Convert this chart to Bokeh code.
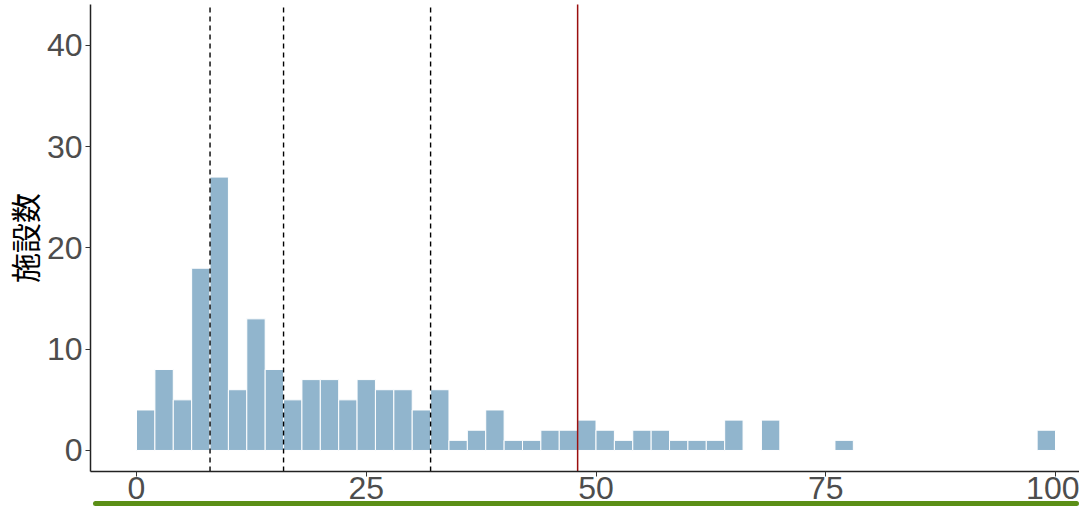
from bokeh.plotting import figure
from bokeh.models import Div, FixedTicker, ColumnDataSource
from bokeh.layouts import column
from bokeh.embed import file_html
from bokeh.resources import INLINE

# --- data ---
bin_left = [0, 2, 4, 6, 8, 10, 12, 14, 16, 18, 20, 22, 24, 26, 28, 30, 32, 34, 36, 38,
            40, 42, 44, 46, 48, 50, 52, 54, 56, 58, 60, 62, 64, 66, 68, 70, 72, 74, 76, 78,
            80, 82, 84, 86, 88, 90, 92, 94, 96, 98]
counts = [4, 8, 5, 18, 27, 6, 13, 8, 5, 7, 7, 5, 7, 6, 6, 4, 6, 1, 2, 4,
          1, 1, 2, 2, 3, 2, 1, 2, 2, 1, 1, 1, 3, 0, 3, 0, 0, 0, 1, 0,
          0, 0, 0, 0, 0, 0, 0, 0, 0, 2]
bin_width = 2
quartile_lines = [8, 16, 32]
mean_line = [48]
x_ticks = [0, 25, 50, 75, 100]
y_ticks = [0, 10, 20, 30, 40]
y_label = "施設数"

# --- ranges ---
x_lo, x_hi = -14.80, 102.61
axis_x = -5.0
y_lo, y_hi = -5.73, 44.44
axis_y = -2.07
axis_top = 44.05

p = figure(width=1079, height=508, output_backend="svg", toolbar_location=None,
           x_range=(x_lo, x_hi), y_range=(y_lo, y_hi),
           min_border_left=0, min_border_right=0, min_border_top=0, min_border_bottom=0)
p.outline_line_color = None
p.background_fill_color = "#ffffff"
p.border_fill_color = "#ffffff"
p.xgrid.visible = False
p.ygrid.visible = False

src = ColumnDataSource(dict(
    left=bin_left,
    right=[b + bin_width for b in bin_left],
    top=counts,
    bottom=[0] * len(counts),
))
p.quad(left="left", right="right", top="top", bottom="bottom", source=src,
       fill_color="#91b5cd", line_color="#ffffff", line_width=1)

p.segment(x0=quartile_lines, x1=quartile_lines,
          y0=[axis_y] * len(quartile_lines), y1=[axis_top - 0.3] * len(quartile_lines),
          line_color="#000000", line_width=1.4, line_dash="5 4")
p.segment(x0=mean_line, x1=mean_line, y0=[axis_y], y1=[axis_top], line_color="#9a0f0f", line_width=1.5)

# axes
xa = p.xaxis[0]
xa.fixed_location = axis_y
xa.bounds = (axis_x, x_hi)
xa.ticker = FixedTicker(ticks=x_ticks)
xa.minor_tick_line_color = None
xa.major_tick_in = 0
xa.major_tick_out = 5
xa.major_tick_line_color = "#333333"
xa.axis_line_color = "#222222"
xa.axis_line_width = 1.5
xa.major_label_text_font = "Liberation Sans"
xa.major_label_text_font_size = "32px"
xa.major_label_text_color = "#4d4d4d"
xa.major_label_standoff = 1

ya = p.yaxis[0]
ya.fixed_location = axis_x
ya.bounds = (axis_y, axis_top)
ya.ticker = FixedTicker(ticks=y_ticks)
ya.minor_tick_line_color = None
ya.major_tick_in = 0
ya.major_tick_out = 5
ya.major_tick_line_color = "#333333"
ya.axis_line_color = "#222222"
ya.axis_line_width = 1.5
ya.major_label_text_font = "Liberation Sans"
ya.major_label_text_font_size = "32px"
ya.major_label_text_color = "#4d4d4d"
ya.major_label_standoff = 3
ya.axis_label = y_label
ya.axis_label_text_font = "Noto Sans CJK JP"
ya.axis_label_text_font_size = "30px"
ya.axis_label_text_font_style = "normal"
ya.axis_label_text_color = "#000000"
ya.axis_label_standoff = -2

bar = Div(width=986, height=5, styles={"background-color": "#5b8f16", "margin-left": "93px",
                                       "margin-top": "-7px", "border-radius": "3px",
                                       "z-index": "5", "position": "relative"})

layout = column(p, bar, spacing=0)
open("out.html", "w").write(file_html(layout, INLINE))
